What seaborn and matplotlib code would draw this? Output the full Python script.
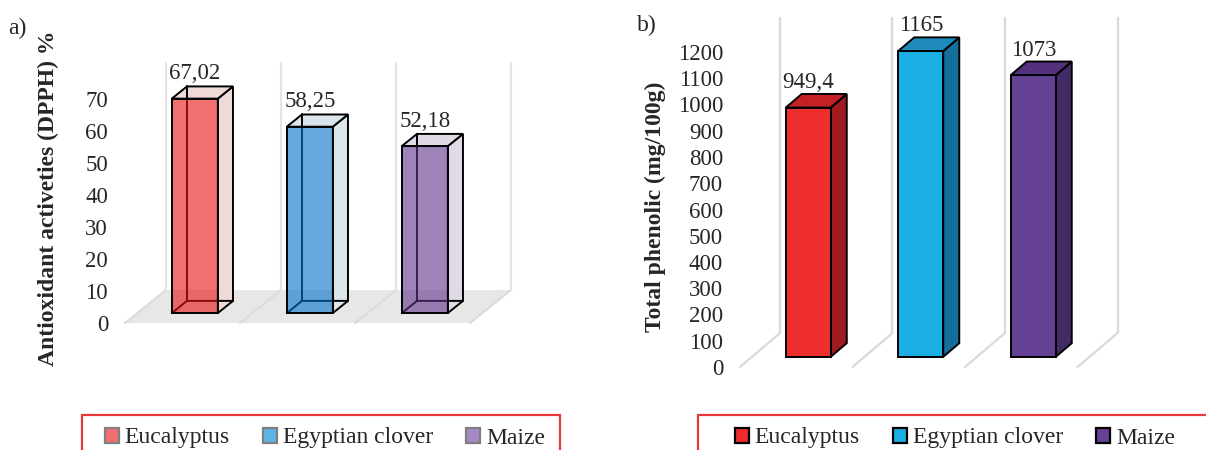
import matplotlib
matplotlib.use('Agg')
import matplotlib.pyplot as plt
import seaborn as sns
from matplotlib.colors import to_rgba
from matplotlib.patches import Polygon, Patch, Rectangle
from matplotlib.transforms import Affine2D

# data
categories = ['Eucalyptus', 'Egyptian clover', 'Maize']
dpph_values = [67.02, 58.25, 52.18]
phenolic_values = [949.4, 1165, 1073]
dpph_ticks = [0, 10, 20, 30, 40, 50, 60, 70]
phenolic_ticks = [0, 100, 200, 300, 400, 500, 600, 700, 800, 900, 1000, 1100, 1200]

# colours
dpph_front = ['#E61111', '#0071CB', '#5F328C']     # drawn with alpha
dpph_side = ['#EFD9D9', '#DAE5EC', '#DFDAE5']
dpph_legend = ['#F07070', '#5BB4E6', '#A589C4']
phen_front = ['#EE2E2E', '#1BAEE3', '#654196']
phen_side = ['#A01C20', '#12709A', '#432B68']
phen_top = ['#C32126', '#1E8BBB', '#53317F']

sns.set_style('white')
plt.rcParams['font.family'] = ['Liberation Serif', 'DejaVu Serif']

W, H = 1206, 450
EDGE = 1.4
fig = plt.figure(figsize=(W / 100, H / 100), dpi=100)


def px_axes(left, top, right, bottom):
    return fig.add_axes([left / W, 1 - bottom / H, (right - left) / W, (bottom - top) / H])


def draw_panel(ax, values, ticks, kx, ky, z1, z2, wall_top, front, side, top,
               transparent, front_alpha):
    n = len(values)

    def proj(x, v, z):
        return (x + z * kx, v + z * ky)

    sns.barplot(x=categories, y=values, hue=categories, palette=front, width=0.4,
                saturation=1, edgecolor='black', linewidth=EDGE, legend=False, ax=ax)
    bars = sorted(ax.patches, key=lambda p: p.get_x())

    # floor + back wall
    if transparent:
        ax.add_patch(Polygon([proj(-0.5, 0, 0), proj(n - 0.5, 0, 0),
                              proj(n - 0.5, 0, 1), proj(-0.5, 0, 1)],
                             closed=True, facecolor='#E7E8E6', edgecolor='none', zorder=0))
        floor_col = '#DCDDDB'
        wall_col = '#E4E4E4'
    else:
        floor_col = '#D9D9D9'
        wall_col = '#D9D9D9'
    for i in range(n + 1):
        a = proj(i - 0.5, 0, 0)
        b = proj(i - 0.5, 0, 1)
        c = proj(i - 0.5, wall_top, 1)
        ax.plot([a[0], b[0]], [a[1], b[1]], color=floor_col, lw=1.6, zorder=0.5)
        ax.plot([b[0], c[0]], [b[1], c[1]], color=wall_col, lw=1.6, zorder=0.5)

    for i, p in enumerate(bars):
        x0, w, h = p.get_x(), p.get_width(), p.get_height()
        x1 = x0 + w
        p.set_transform(Affine2D().translate(z1 * kx, z1 * ky) + ax.transData)
        p.set_zorder(4)
        if front_alpha < 1:
            p.set_facecolor(to_rgba(front[i], front_alpha))
        ax.add_patch(Polygon([proj(x1, 0, z1), proj(x1, 0, z2), proj(x1, h, z2), proj(x1, h, z1)],
                             closed=True, facecolor=side[i], edgecolor='black', lw=EDGE, zorder=2))
        ax.add_patch(Polygon([proj(x0, h, z1), proj(x1, h, z1), proj(x1, h, z2), proj(x0, h, z2)],
                             closed=True, facecolor=top[i], edgecolor='black', lw=EDGE, zorder=2))
        if transparent:
            pts = [proj(x0, 0, z1), proj(x0, 0, z2), proj(x1, 0, z2)]
            ax.plot([q[0] for q in pts], [q[1] for q in pts], color='black', lw=EDGE, zorder=3)
            a, b = proj(x0, 0, z2), proj(x0, h, z2)
            ax.plot([a[0], b[0]], [a[1], b[1]], color='black', lw=EDGE, zorder=3)
        lx, ly = proj(x0 + w / 2, h, z1)
        ax.annotate(f'{values[i]:g}'.replace('.', ','), xy=(lx, ly), xytext=(0, 18),
                    textcoords='offset points', ha='center', va='center', fontsize=16.5)

    ax.set_yticks(ticks)
    ax.set_xticks([])
    ax.tick_params(axis='y', length=0, pad=8.6, labelsize=16.5)
    for s in ax.spines.values():
        s.set_visible(False)
    ax.set_xlabel('')


# panel a: front plane x px = 125 + (x+0.5)*115, y px = 323 - v*3.2
ax1 = px_axes(120, 20, 560, 330)
draw_panel(ax1, dpph_values, dpph_ticks, kx=41 / 115, ky=33 / 3.2, z1=0.3, z2=0.67,
           wall_top=71, front=dpph_front, side=dpph_side, top=dpph_side,
           transparent=True, front_alpha=0.6)
ax1.set_xlim((120 - 125) / 115 - 0.5, (560 - 125) / 115 - 0.5)
ax1.set_ylim((323 - 330) / 3.2, (323 - 20) / 3.2)

# panel b: front plane x px = 740 + (x+0.5)*112.5, y px = 367 - v*0.2625
ax2 = px_axes(735, 10, 1200, 375)
draw_panel(ax2, phenolic_values, phenolic_ticks, kx=40 / 112.5, ky=34 / 0.2625, z1=0.3, z2=0.7,
           wall_top=1200, front=phen_front, side=phen_side, top=phen_top,
           transparent=False, front_alpha=1)
ax2.set_xlim((735 - 740) / 112.5 - 0.5, (1200 - 740) / 112.5 - 0.5)
ax2.set_ylim((367 - 375) / 0.2625, (367 - 10) / 0.2625)

# axis titles and panel letters
fig.text(48 / W, 1 - 198 / H, 'Antioxidant activeties (DPPH) %', rotation=90,
         ha='center', va='center', fontsize=17, fontweight='bold')
fig.text(655 / W, 1 - 207 / H, 'Total phenolic (mg/100g)', rotation=90,
         ha='center', va='center', fontsize=17, fontweight='bold')
fig.text(8 / W, 1 - 28 / H, 'a)', ha='left', va='center', fontsize=17)
fig.text(637 / W, 1 - 25 / H, 'b)', ha='left', va='center', fontsize=17)

# legends with red frames
for (l, r, cx, cols, ec) in [(82, 560, 325, dpph_legend, '#7F7F7F'),
                             (698, 1230, 955, phen_front, 'black')]:
    fig.add_artist(Rectangle((l / W, 1 - 470 / H), (r - l) / W, 55 / H,
                             transform=fig.transFigure, fill=False,
                             edgecolor='#E8383A', lw=1.6, clip_on=False))
    handles = [Patch(facecolor=c, edgecolor=ec, lw=1.6) for c in cols]
    fig.legend(handles, categories, loc='center', bbox_to_anchor=(cx / W, 1 - 438 / H),
               ncol=3, frameon=False, fontsize=17, handlelength=0.6, handleheight=0.6,
               handletextpad=0.25, columnspacing=1.4)

fig.savefig('out.png', dpi=100)
